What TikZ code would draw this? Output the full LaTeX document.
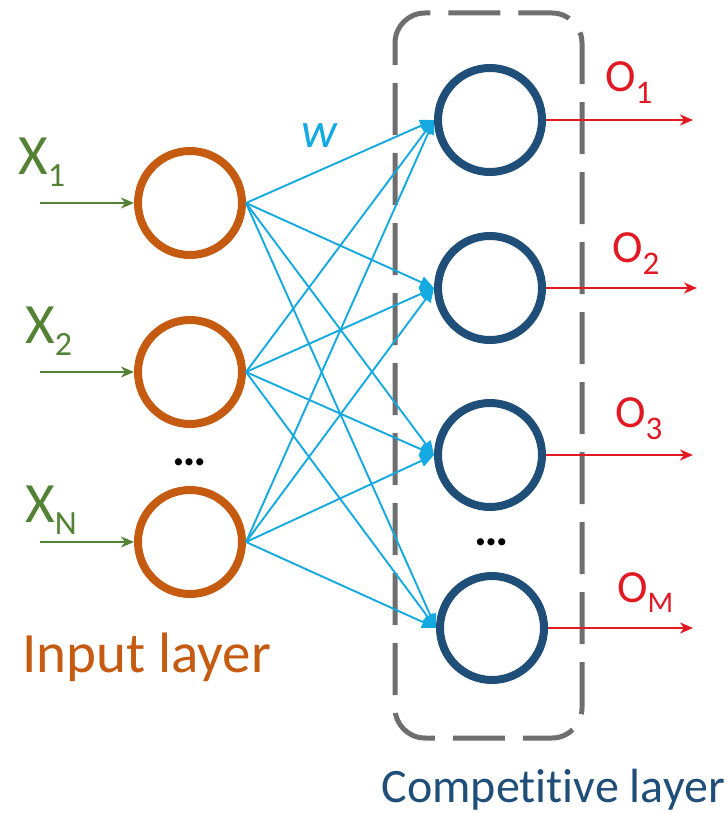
\documentclass[tikz,border=0pt]{standalone}
\usepackage{fontspec}
\setmainfont{Carlito}[Ligatures=NoCommon]
\usetikzlibrary{arrows.meta}
\definecolor{inorange}{RGB}{197,90,17}
\definecolor{outblue}{RGB}{31,78,121}
\definecolor{ingreen}{RGB}{84,130,53}
\definecolor{wcyan}{RGB}{20,170,225}
\definecolor{outred}{RGB}{225,25,35}
\definecolor{boxgray}{RGB}{110,110,110}
\tikzset{
  inneuron/.style={circle,draw=inorange,line width=8pt,minimum size=104pt,inner sep=0pt},
  outneuron/.style={circle,draw=outblue,line width=8pt,minimum size=104pt,inner sep=0pt},
  inarrow/.style={draw=ingreen,line width=2.5pt,-{Stealth[length=13pt,width=11pt,inset=4pt]}},
  outarrow/.style={draw=outred,line width=2.5pt,-{Stealth[length=13pt,width=11pt,inset=4pt]}},
  weight/.style={draw=wcyan,line width=1.9pt,-{Triangle[length=14pt,width=12pt]}},
  xlabel/.style={text=ingreen,anchor=base west,inner sep=0pt,font=\fontsize{57}{60}\selectfont},
  olabel/.style={text=outred,anchor=base west,inner sep=0pt,font=\fontsize{46}{50}\selectfont},
  dotstext/.style={inner sep=0pt,font=\fontsize{48}{50}\selectfont\bfseries},
}
\begin{document}
\begin{tikzpicture}[x=1pt,y=-1pt]
\useasboundingbox (0,0) rectangle (727,813);
% dashed box
\draw[boxgray,line width=5pt,dash pattern=on 52pt off 18pt,dash phase=30pt,rounded corners=30pt]
  (395,13) rectangle (582,738);
% neurons
\node[inneuron] (i1) at (190,203) {};
\node[inneuron] (i2) at (190,372) {};
\node[inneuron] (i3) at (190,542) {};
\node[outneuron] (o1) at (490,120) {};
\node[outneuron] (o2) at (490,288) {};
\node[outneuron] (o3) at (490,455) {};
\node[outneuron] (o4) at (492,628) {};
% weights
\foreach \a in {i1,i2,i3}{
  \foreach \b in {o1,o2,o3,o4}{
    \draw[weight] (\a.east) -- (\b.west);
  }
}
% inputs
\coordinate (s1) at (40,203);
\coordinate (s2) at (40,372);
\coordinate (s3) at (40,542);
\draw[inarrow] (s1) -- (i1.west);
\draw[inarrow] (s2) -- (i2.west);
\draw[inarrow] (s3) -- (i3.west);
% outputs
\coordinate (e1) at (693,120);
\coordinate (e2) at (697,288);
\coordinate (e3) at (693,455);
\coordinate (e4) at (693,628);
\draw[outarrow] (o1.east) -- (e1);
\draw[outarrow] (o2.east) -- (e2);
\draw[outarrow] (o3.east) -- (e3);
\draw[outarrow] (o4.east) -- (e4);
% labels
\node[xlabel] (lx1) at (18,175) {X\raisebox{-12pt}{\fontsize{34}{34}\selectfont 1}};
\node[xlabel] (lx2) at (25,343) {X\raisebox{-12pt}{\fontsize{34}{34}\selectfont 2}};
\node[xlabel] (lx3) at (25,522) {X\raisebox{-12pt}{\fontsize{34}{34}\selectfont N}};
\node[olabel] (lo1) at (605,92) {O\raisebox{-12pt}{\fontsize{33}{33}\selectfont 1}};
\node[olabel] (lo2) at (612,262) {O\raisebox{-12pt}{\fontsize{33}{33}\selectfont 2}};
\node[olabel] (lo3) at (615,427) {O\raisebox{-12pt}{\fontsize{33}{33}\selectfont 3}};
\node[olabel] (lo4) at (617,602) {O\raisebox{-10pt}{\fontsize{30}{30}\selectfont M}};
\node[text=wcyan,anchor=base west,inner sep=0pt,font=\fontsize{50}{52}\selectfont\itshape] (w) at (301,148) {w};
\node[dotstext] (d1) at (190,462) {…};
\node[dotstext] (d2) at (492,542) {…};
\node[text=inorange,anchor=base west,inner sep=0pt,font=\fontsize{57}{60}\selectfont] (il) at (22,672) {Input layer};
\node[text=outblue,anchor=base east,inner sep=0pt,font=\fontsize{48}{52}\selectfont] (cl) at (725,802) {Competitive layer};
\end{tikzpicture}
\end{document}
